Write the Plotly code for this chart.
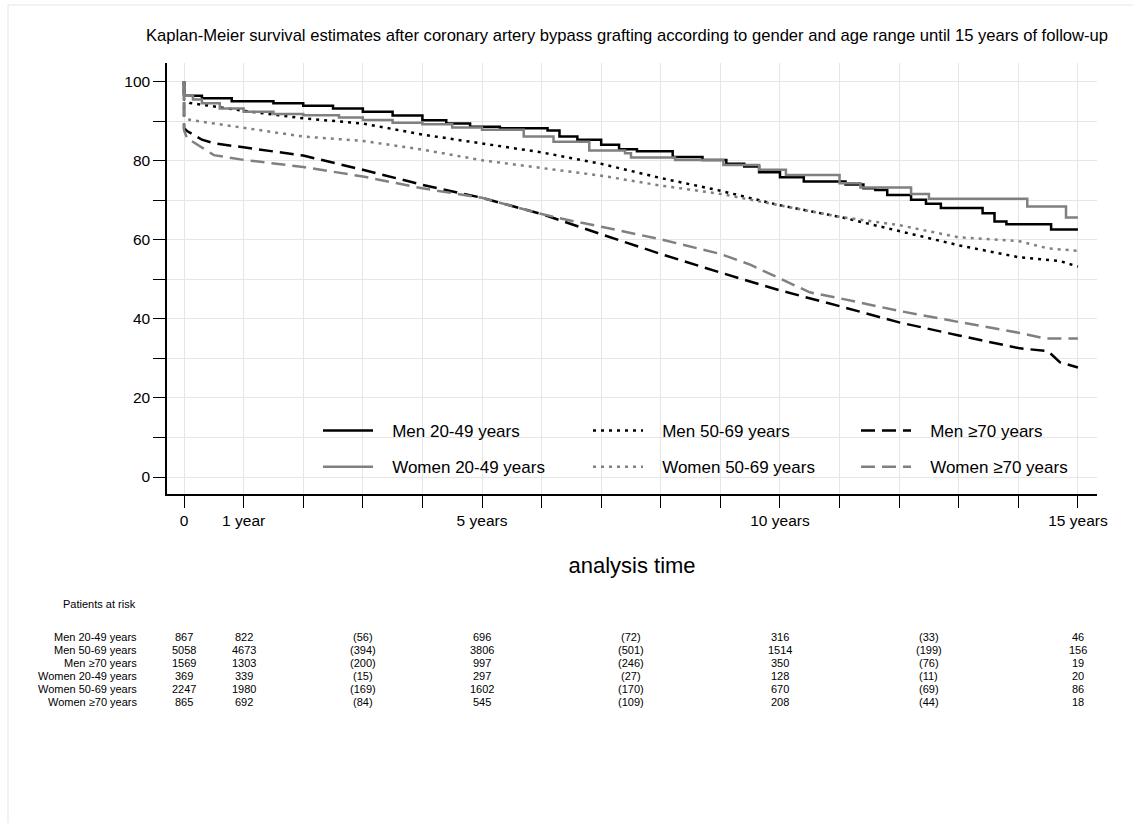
import plotly.graph_objects as go

# ---- Kaplan-Meier survival (%) by follow-up time (years) ----
men_20_49_t = [0, 0, 0.3, 0.8, 1.5, 2.0, 2.5, 3.0, 3.5, 4.0, 4.4, 4.8, 5.3, 6.1, 6.3, 6.6, 7.0, 7.3,
               7.6, 8.2, 8.7, 9.1, 9.4, 9.65, 10.0, 10.4, 11.1, 11.4, 11.6, 11.8, 12.2, 12.45, 12.7,
               13.4, 13.6, 13.8, 14.55, 15.0]
men_20_49_s = [100, 96.4, 95.8, 95.0, 94.5, 93.9, 93.2, 92.4, 91.4, 90.2, 89.4, 88.6, 88.2, 87.6, 86.1,
               85.3, 84.0, 82.9, 82.4, 80.9, 80.2, 79.2, 78.5, 77.1, 75.8, 74.7, 74.0, 73.0, 72.6, 71.3,
               70.1, 69.1, 68.0, 66.7, 64.6, 63.9, 62.6, 62.6]

women_20_49_t = [0, 0, 0.15, 0.3, 0.6, 1.0, 1.5, 2.0, 2.6, 3.0, 3.5, 4.0, 4.5, 5.0, 5.7, 6.2, 6.8, 7.4,
                 7.5, 8.24, 9.05, 9.65, 10.1, 11.0, 11.35, 12.2, 12.5, 14.15, 14.8, 15.0]
women_20_49_s = [100, 96.4, 95.5, 94.5, 93.2, 92.4, 91.8, 91.5, 90.9, 90.3, 89.6, 89.2, 88.4, 87.8, 86.1,
                 84.8, 82.6, 81.9, 80.8, 80.2, 78.9, 77.7, 76.4, 74.3, 73.2, 71.6, 70.4, 68.4, 65.6, 65.6]

men_50_69_t = [0, 0, 0.1, 0.5, 1, 2, 3, 4, 5, 6, 7, 8, 9, 10, 11, 12, 13, 14, 14.7, 15]
men_50_69_s = [100, 95.5, 94.6, 93.7, 92.6, 90.7, 89.4, 86.6, 84.4, 82.1, 79.2, 75.6, 72.4, 68.7, 65.8,
               62.2, 58.6, 55.6, 54.6, 53.2]

women_50_69_t = [0, 0, 0.1, 0.5, 1, 2, 3, 4, 5, 6, 7, 8, 9, 10, 11, 12, 13, 14, 14.5, 15]
women_50_69_s = [100, 91.1, 90.3, 89.4, 88.2, 86.1, 85.0, 82.8, 80.1, 78.1, 76.2, 73.7, 71.6, 68.7, 65.8,
                 63.7, 60.6, 59.7, 57.8, 57.2]

men_70_t = [0, 0, 0.05, 0.3, 0.5, 1, 2, 3, 4, 5, 6, 7, 8, 9, 10, 11, 12, 13, 14, 14.5, 14.7, 15]
men_70_s = [100, 88.2, 87.5, 85.3, 84.4, 83.4, 81.3, 77.7, 73.9, 70.6, 66.5, 61.4, 56.4, 51.7, 47.2, 43.2,
            39.1, 35.8, 32.6, 31.8, 29.0, 27.7]

women_70_t = [0, 0, 0.05, 0.3, 0.5, 1, 2, 3, 4, 5, 6, 6.5, 7, 8, 9, 9.5, 10, 10.5, 11, 12, 13, 14, 14.45, 15]
women_70_s = [100, 87.7, 85.7, 83.3, 81.4, 80.2, 78.4, 76.0, 73.0, 70.6, 66.5, 64.8, 63.3, 60.1, 56.4, 53.7,
              50.3, 46.7, 45.2, 42.0, 39.2, 36.5, 35.0, 35.0]

# ---- patients at risk table ----
risk_groups = ["Men 20-49 years", "Men 50-69 years", "Men \u226570 years",
               "Women 20-49 years", "Women 50-69 years", "Women \u226570 years"]
risk_times = [0, 1, 3, 5, 7.5, 10, 12.5, 15]
risk_rows = [
    ["867", "822", "(56)", "696", "(72)", "316", "(33)", "46"],
    ["5058", "4673", "(394)", "3806", "(501)", "1514", "(199)", "156"],
    ["1569", "1303", "(200)", "997", "(246)", "350", "(76)", "19"],
    ["369", "339", "(15)", "297", "(27)", "128", "(11)", "20"],
    ["2247", "1980", "(169)", "1602", "(170)", "670", "(69)", "86"],
    ["865", "692", "(84)", "545", "(109)", "208", "(44)", "18"],
]

x_tickvals = list(range(0, 16))
x_ticktext = ["0", "1 year", "", "", "", "5 years", "", "", "", "", "10 years", "", "", "", "", "15 years"]
y_tickvals = list(range(0, 101, 10))
y_ticktext = [str(v) if v % 20 == 0 else "" for v in y_tickvals]

TITLE = ("Kaplan-Meier survival estimates after coronary artery bypass grafting according to "
         "gender and age range until 15 years of follow-up")

FONT = "Liberation Sans, Arial, Helvetica, sans-serif"
BLACK = "#000000"
GREY = "#808080"
TEXT = "#000000"

W, H = 1133, 823
ML, MR, MT, MB = 167, 36, 63, 329
PLOT_H = H - MT - MB
PAD = "\u00a0\u00a0\u00a0"  # gap between legend key and label


def paper_y(py):
    """Convert a page pixel row into paper y coordinate."""
    return (H - MB - py) / PLOT_H


def paper_x(px):
    return (px - ML) / (W - ML - MR)


series = [
    ("Men 20-49 years", men_20_49_t, men_20_49_s, BLACK, "solid", "hv", "legend"),
    ("Men 50-69 years", men_50_69_t, men_50_69_s, BLACK, "3px,5px", "linear", "legend2"),
    ("Men \u226570 years", men_70_t, men_70_s, BLACK, "14px,7px", "linear", "legend3"),
    ("Women 20-49 years", women_20_49_t, women_20_49_s, GREY, "solid", "hv", "legend"),
    ("Women 50-69 years", women_50_69_t, women_50_69_s, GREY, "3px,5px", "linear", "legend2"),
    ("Women \u226570 years", women_70_t, women_70_s, GREY, "14px,7px", "linear", "legend3"),
]

fig = go.Figure()
for name, t, s, color, dash, shape, leg in series:
    fig.add_trace(go.Scatter(
        x=t, y=s, name=PAD + name, mode="lines",
        line=dict(color=color, width=2.5, dash=dash, shape=shape),
        legend=leg, legendgroup=name,
    ))

legend_common = dict(
    bgcolor="rgba(0,0,0,0)", borderwidth=0, font=dict(family=FONT, size=17, color=TEXT),
    orientation="v", xanchor="left", yanchor="top", itemwidth=50,
    traceorder="grouped", tracegroupgap=11, itemclick=False,
)
legend_top = paper_y(413)

annotations = [
    dict(text=TITLE, x=paper_x(627), y=paper_y(35), xref="paper", yref="paper",
         xanchor="center", yanchor="middle", showarrow=False,
         font=dict(family=FONT, size=16.6, color=TEXT)),
    dict(text="Patients at risk", x=paper_x(138), y=paper_y(604), xref="paper", yref="paper",
         xanchor="right", yanchor="middle", showarrow=False,
         font=dict(family=FONT, size=11, color=TEXT)),
]
for i, (grp, row) in enumerate(zip(risk_groups, risk_rows)):
    py = 637 + 13 * i
    annotations.append(dict(text=grp, x=paper_x(139), y=paper_y(py), xref="paper", yref="paper",
                            xanchor="right", yanchor="middle", showarrow=False,
                            font=dict(family=FONT, size=11, color=TEXT)))
    for tt, val in zip(risk_times, row):
        annotations.append(dict(text=val, x=tt, y=paper_y(py), xref="x", yref="paper",
                                xanchor="center", yanchor="middle", showarrow=False,
                                font=dict(family=FONT, size=11, color=TEXT)))

fig.update_layout(
    width=W, height=H,
    margin=dict(l=ML, r=MR, t=MT, b=MB, pad=0),
    paper_bgcolor="white", plot_bgcolor="white",
    font=dict(family=FONT, color=TEXT),
    showlegend=True,
    legend=dict(legend_common, x=paper_x(318), y=legend_top),
    legend2=dict(legend_common, x=paper_x(588), y=legend_top),
    legend3=dict(legend_common, x=paper_x(856), y=legend_top),
    annotations=annotations,
    xaxis=dict(
        range=[-0.286, 15.32], tickvals=x_tickvals, ticktext=x_ticktext,
        ticks="outside", ticklen=12, tickwidth=1.3, tickcolor=BLACK,
        showline=True, linecolor=BLACK, linewidth=1.5,
        showgrid=True, gridcolor="#e6e6e6", gridwidth=1, zeroline=False,
        tickfont=dict(family=FONT, size=15.5, color=TEXT),
        title=dict(text="analysis time", font=dict(family=FONT, size=22, color=TEXT), standoff=29),
    ),
    yaxis=dict(
        range=[-4.3, 104.7], tickvals=y_tickvals, ticktext=y_ticktext,
        ticks="outside", ticklen=12, tickwidth=1.3, tickcolor=BLACK,
        showline=True, linecolor=BLACK, linewidth=1.5,
        showgrid=True, gridcolor="#e6e6e6", gridwidth=1, zeroline=False,
        tickfont=dict(family=FONT, size=15.5, color=TEXT),
    ),
    shapes=[
        dict(type="line", xref="paper", yref="paper", x0=paper_x(8), x1=paper_x(8),
             y0=paper_y(5), y1=paper_y(H + 5), line=dict(color="#dde8e8", width=1)),
        dict(type="line", xref="paper", yref="paper", x0=paper_x(8), x1=paper_x(W + 5),
             y0=paper_y(5), y1=paper_y(5), line=dict(color="#dde8e8", width=1)),
    ],
)

fig.write_html("out.html")
